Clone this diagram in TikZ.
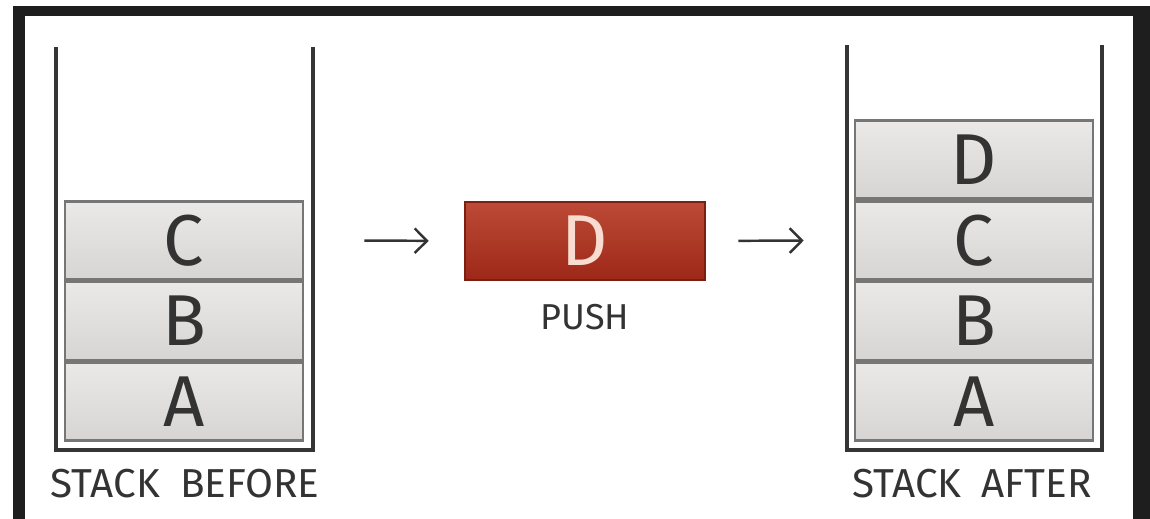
\documentclass[tikz,border=0pt]{standalone}
\usepackage{fontspec}
\setmainfont{Fira Sans}
\usetikzlibrary{positioning,arrows.meta}

\definecolor{frame}{HTML}{1E1E1E}
\definecolor{wallc}{HTML}{353535}
\definecolor{blkline}{HTML}{767676}
\definecolor{blktop}{HTML}{EAE9E7}
\definecolor{blkbot}{HTML}{D6D5D3}
\definecolor{txt}{HTML}{333333}
\definecolor{pushtop}{HTML}{BC4A36}
\definecolor{pushbot}{HTML}{9E2818}
\definecolor{pushline}{HTML}{7A2012}
\definecolor{pushtxt}{HTML}{F8DCD0}

\tikzset{
  blk/.style={draw=blkline, line width=1.5pt, top color=blktop, bottom color=blkbot,
    minimum width=4.76cm, minimum height=1.56cm, inner sep=0pt, text=txt,
    font=\fontsize{41}{41}\selectfont},
  wall/.style={draw=wallc, line width=1.8pt},
  lbl/.style={text=txt, inner sep=0pt, font=\fontsize{23}{23}\selectfont},
  arr/.style={draw=txt, line width=1.4pt, -{Straight Barb[length=7pt,width=14pt]}}
}

\begin{document}
\begin{tikzpicture}[x=0.02cm,y=-0.02cm]
            \useasboundingbox (0,0) rectangle (1150,519);
            \fill[frame] (13,6) rectangle (1150,16);
            \fill[frame] (13,6) rectangle (25,519);
            \fill[frame] (1133,6) rectangle (1150,519);

            \draw[wall] (56,47) |- (313,450) -- (313,47);
            \node[blk] (A1) at (184,401.5) {A};
            \node[blk, above=0pt of A1] (B1) {B};
            \node[blk, above=0pt of B1] (C1) {C};
            \node[lbl] (before) at (185,484) {STACK\hspace{0.5em}BEFORE};

            \node[blk, draw=pushline, top color=pushtop, bottom color=pushbot, text=pushtxt,
              minimum width=4.8cm] (push) at (585,241) {D};
            \node[lbl, font=\fontsize{20.5}{20.5}\selectfont, below=0.45cm of push] (pushlbl) {PUSH};

            \draw[wall] (847,45) |- (1102,450) -- (1102,45);
            \node[blk] (A2) at (974,401.5) {A};
            \node[blk, above=0pt of A2] (B2) {B};
            \node[blk, above=0pt of B2] (C2) {C};
            \node[blk, above=0pt of C2] (D2) {D};
            \node[lbl] (after) at (972,484) {STACK\hspace{0.5em}AFTER};

            \draw[arr, shorten <=1.2cm, shorten >=0.7cm] (C1.east) -- (push.west);
            \draw[arr, shorten <=0.64cm, shorten >=1cm] (push.east) -- (C2.west);
\end{tikzpicture}
\end{document}
